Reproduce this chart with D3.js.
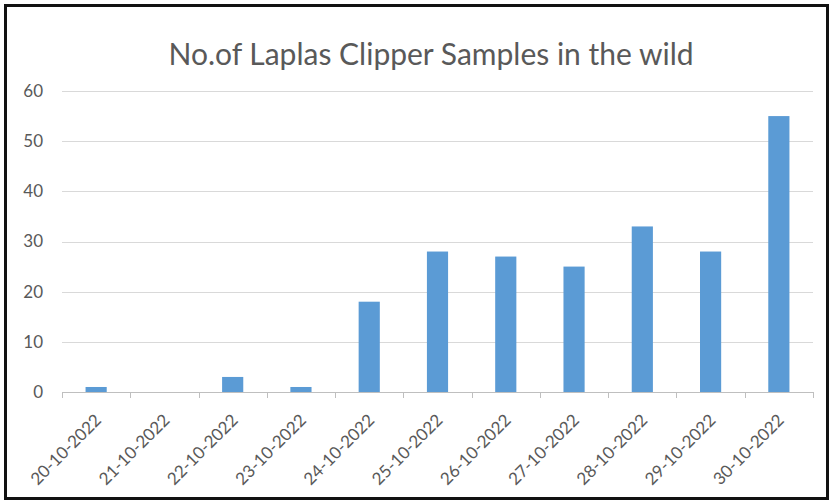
<!DOCTYPE html>
<meta charset="utf-8">
<title>Laplas Clipper</title>
<style>
body { margin: 0; background: #fff; }
text { font-family: Lato, "Open Sans", sans-serif; fill: #595959; }
</style>
<body>
<div id="chart"></div>
<script src="https://d3js.org/d3.v7.min.js"></script>
<script>

var dates = ["20-10-2022", "21-10-2022", "22-10-2022", "23-10-2022", "24-10-2022",
             "25-10-2022", "26-10-2022", "27-10-2022", "28-10-2022", "29-10-2022", "30-10-2022"];
var samples = [1, 0, 3, 1, 18, 28, 27, 25, 33, 28, 55];
var yTicks = [0, 10, 20, 30, 40, 50, 60];
var title = "No.of Laplas Clipper Samples in the wild";

var W = 832, H = 502;
var margin = {top: 91, right: 19, bottom: 110, left: 62};
var width = W - margin.left - margin.right,
    height = H - margin.top - margin.bottom;

var svg = d3.select("#chart").append("svg")
    .attr("width", W)
    .attr("height", H);

// frame
svg.append("rect")
    .attr("x", 5.5).attr("y", 5.5)
    .attr("width", 822).attr("height", 493)
    .attr("fill", "none")
    .attr("stroke", "#111")
    .attr("stroke-width", 3);

svg.append("text")
    .attr("x", 431)
    .attr("y", 65)
    .attr("text-anchor", "middle")
    .style("font-size", "30px")
    .text(title);

var g = svg.append("g")
    .attr("transform", "translate(" + margin.left + "," + margin.top + ")");

var x = d3.scaleBand()
    .domain(dates)
    .range([0, width])
    .paddingInner(0.69)
    .paddingOuter(0.345);

var y = d3.scaleLinear()
    .domain([0, 60])
    .range([height, 0]);

// grid lines
g.append("g")
  .selectAll("line")
  .data(yTicks.filter(function (d) { return d > 0; }))
  .enter().append("line")
    .attr("x1", 0).attr("x2", width)
    .attr("y1", function (d) { return Math.round(y(d)) + 0.5; })
    .attr("y2", function (d) { return Math.round(y(d)) + 0.5; })
    .attr("stroke", "#d9d9d9");

// y labels
g.append("g")
  .selectAll("text")
  .data(yTicks)
  .enter().append("text")
    .attr("x", -19)
    .attr("y", function (d) { return y(d); })
    .attr("dy", "0.35em")
    .attr("text-anchor", "end")
    .style("font-size", "17px")
    .text(function (d) { return d; });

// bars
g.append("g")
  .selectAll("rect")
  .data(samples)
  .enter().append("rect")
    .attr("x", function (d, i) { return x(dates[i]); })
    .attr("y", function (d) { return y(d); })
    .attr("width", x.bandwidth())
    .attr("height", function (d) { return height - y(d); })
    .attr("fill", "#5b9bd5");

// x axis with ticks at band edges
var step = x.step();
var ax = g.append("g")
    .attr("transform", "translate(0," + height + ")");
ax.append("line")
    .attr("x1", 0).attr("x2", width)
    .attr("y1", 0.5).attr("y2", 0.5)
    .attr("stroke", "#bfbfbf");
ax.selectAll("line.tick")
  .data(d3.range(dates.length + 1))
  .enter().append("line")
    .attr("class", "tick")
    .attr("x1", function (i) { return Math.round(i * step) + 0.5; })
    .attr("x2", function (i) { return Math.round(i * step) + 0.5; })
    .attr("y1", 0).attr("y2", 6)
    .attr("stroke", "#bfbfbf");
ax.selectAll("text")
  .data(dates)
  .enter().append("text")
    .attr("transform", function (d) {
      return "translate(" + (x(d) + x.bandwidth() / 2 + 2) + ",25) rotate(-45)";
    })
    .attr("text-anchor", "end")
    .attr("dy", "0.35em")
    .style("font-size", "17px")
    .text(function (d) { return d; });

</script>
</body>
